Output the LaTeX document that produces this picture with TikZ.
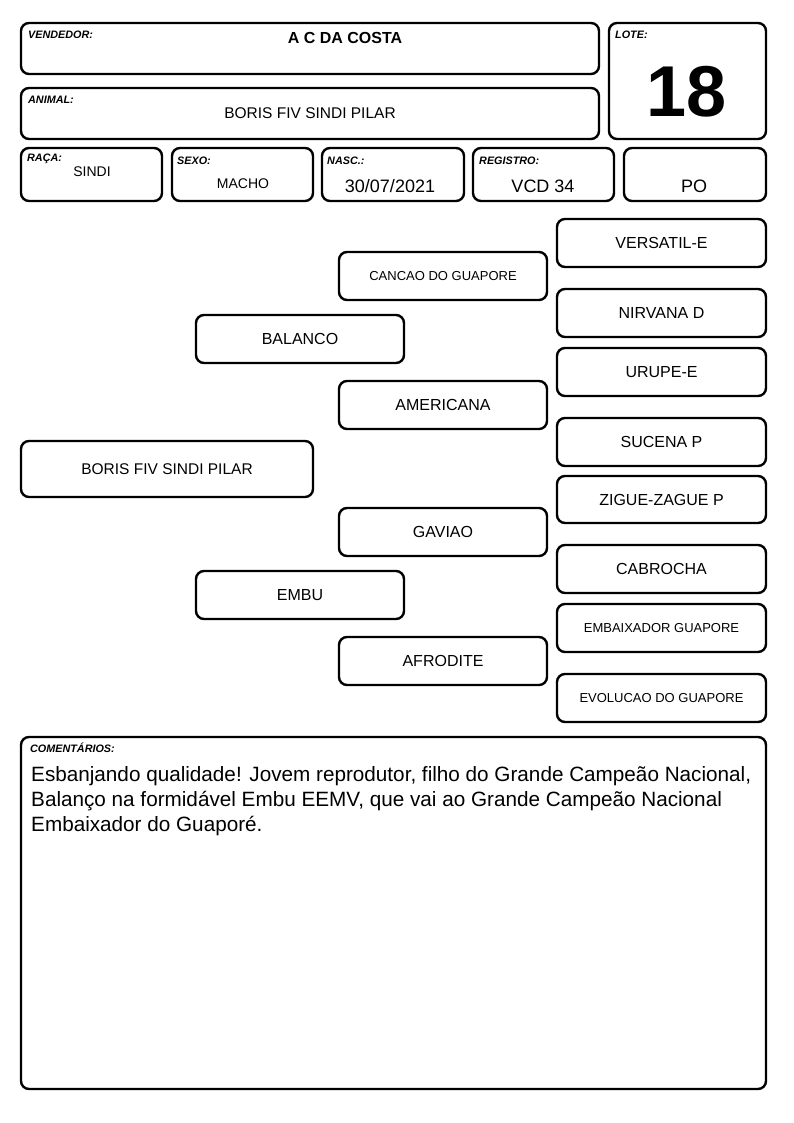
\documentclass[tikz,border=0pt]{standalone}
\usepackage{fontspec}
\setmainfont{Liberation Sans}
\begin{document}
\begin{tikzpicture}[x=1pt,y=-1pt,
  box/.style={draw=black,line width=2.4pt,rounded corners=8pt},
  lbl/.style={anchor=base west,inner sep=0pt,font=\fontsize{10.8}{12}\selectfont\bfseries\itshape},
  val/.style={inner sep=0pt,font=\fontsize{15.5}{19}\selectfont},
  pbox/.style={draw=black,line width=2.4pt,rounded corners=8pt,inner sep=0pt,align=center}
]
\useasboundingbox (0,0) rectangle (794,1123);
% header boxes
\draw[box] (21,23) rectangle (599,74);
\draw[box] (21,88) rectangle (599,139);
\draw[box] (609,23) rectangle (766,139);
\draw[box] (21,148) rectangle (162,201);
\draw[box] (172,148) rectangle (313,201);
\draw[box] (322,148) rectangle (464,201);
\draw[box] (473,148) rectangle (614,201);
\draw[box] (624,148) rectangle (766,201);
\node[lbl] (lvend) at (28,39) {VENDEDOR:};
\node[inner sep=0pt,font=\fontsize{16}{18}\selectfont\bfseries] (vend) at (345,38) {A C DA COSTA};
\node[lbl] (lanim) at (28,104) {ANIMAL:};
\node[val] (anim) at (310,113) {BORIS FIV SINDI PILAR};
\node[lbl] (llote) at (615,39) {LOTE:};
\node[inner sep=0pt,font=\fontsize{72}{80}\selectfont\bfseries] (lote) at (687,92) {18};
\node[lbl] (lraca) at (27,162) {RAÇA:};
\node[inner sep=0pt,font=\fontsize{14}{17}\selectfont] (raca) at (92,172) {SINDI};
\node[lbl] (lsexo) at (177,165) {SEXO:};
\node[inner sep=0pt,font=\fontsize{14}{17}\selectfont] (sexo) at (243,184) {MACHO};
\node[lbl] (lnasc) at (327,165) {NASC.:};
\node[inner sep=0pt,font=\fontsize{18}{21}\selectfont] (nasc) at (390,186) {30/07/2021};
\node[lbl] (lreg) at (479,165) {REGISTRO:};
\node[inner sep=0pt,font=\fontsize{18}{21}\selectfont] (reg) at (543,186) {VCD 34};
\node[inner sep=0pt,font=\fontsize{18}{21}\selectfont] (po) at (694,186) {PO};
% pedigree
\node[pbox,minimum width=209pt,minimum height=48pt,font=\fontsize{16}{19}\selectfont] (p1) at (661.5,243) {VERSATIL-E};
\node[pbox,minimum width=208pt,minimum height=48pt,font=\fontsize{13}{16}\selectfont] (m1) at (443,276) {CANCAO DO GUAPORE};
\node[pbox,minimum width=209pt,minimum height=48pt,font=\fontsize{16}{19}\selectfont] (p2) at (661.5,313) {NIRVANA D};
\node[pbox,minimum width=208pt,minimum height=48pt,font=\fontsize{16}{19}\selectfont] (s1) at (300,339) {BALANCO};
\node[pbox,minimum width=209pt,minimum height=48pt,font=\fontsize{16}{19}\selectfont] (p3) at (661.5,372) {URUPE-E};
\node[pbox,minimum width=208pt,minimum height=48pt,font=\fontsize{16}{19}\selectfont] (m2) at (443,405) {AMERICANA};
\node[pbox,minimum width=209pt,minimum height=48pt,font=\fontsize{16}{19}\selectfont] (p4) at (661.5,442) {SUCENA P};
\node[pbox,minimum width=292pt,minimum height=56pt,font=\fontsize{15.5}{19}\selectfont] (an) at (167,469) {BORIS FIV SINDI PILAR};
\node[pbox,minimum width=209pt,minimum height=47pt,font=\fontsize{16}{19}\selectfont] (p5) at (661.5,499.5) {ZIGUE-ZAGUE P};
\node[pbox,minimum width=208pt,minimum height=48pt,font=\fontsize{16}{19}\selectfont] (m3) at (443,532) {GAVIAO};
\node[pbox,minimum width=209pt,minimum height=48pt,font=\fontsize{16}{19}\selectfont] (p6) at (661.5,569) {CABROCHA};
\node[pbox,minimum width=208pt,minimum height=48pt,font=\fontsize{16}{19}\selectfont] (s2) at (300,595) {EMBU};
\node[pbox,minimum width=209pt,minimum height=48pt,font=\fontsize{13}{16}\selectfont] (p7) at (661.5,628) {EMBAIXADOR GUAPORE};
\node[pbox,minimum width=208pt,minimum height=48pt,font=\fontsize{16}{19}\selectfont] (m4) at (443,661) {AFRODITE};
\node[pbox,minimum width=209pt,minimum height=48pt,font=\fontsize{13}{16}\selectfont] (p8) at (661.5,698) {EVOLUCAO DO GUAPORE};
% comments
\draw[box] (21,737) rectangle (766,1089);
\node[lbl] (lcom) at (30,752) {COMENTÁRIOS:};
\node[anchor=north west,inner sep=0pt,align=left,font=\fontsize{20.7}{25}\selectfont] (com) at (31,766) {Esbanjando qualidade! Jovem reprodutor, filho do Grande Campeão Nacional,\\Balanço na formidável Embu EEMV, que vai ao Grande Campeão Nacional\\Embaixador do Guaporé.};
\end{tikzpicture}
\end{document}
